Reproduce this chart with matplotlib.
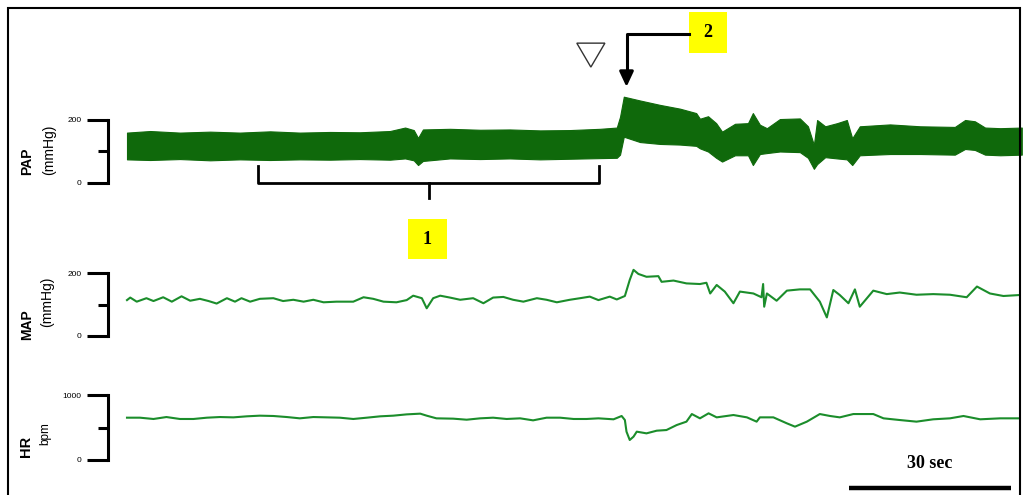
import numpy as np
import matplotlib
matplotlib.use("Agg")
import matplotlib.pyplot as plt
import matplotlib.transforms as mtransforms
from matplotlib.patches import Rectangle, Polygon

# ---- data (time in seconds) ----
pap_t = [0, 4.3, 9.8, 15.4, 20.9, 26.5, 32.0, 37.6, 43.1, 48.7, 51.5, 53.1, 53.9, 54.8,
         59.8, 65.4, 70.9, 76.5, 82.0, 87.6, 90.7, 91.3, 92.0, 95.0, 98.7, 102.4, 105.4,
         106.1, 107.6, 109.1, 110.2, 112.6, 115.0, 115.9, 117.2, 118.5, 120.9, 124.6,
         126.1, 127.2, 127.8, 129.3, 131.5, 133.3, 134.3, 135.7, 141.3, 146.9, 153.3,
         155.2, 157.0, 158.9, 161.7, 165.7]
pap_hi = [160, 165, 160, 163, 160, 164, 160, 162, 161, 165, 176, 168, 143, 170,
          172, 169, 170, 167, 168, 172, 176, 210, 274, 262, 248, 236, 222,
          204, 212, 190, 163, 188, 190, 222, 185, 174, 203, 205,
          180, 121, 200, 180, 190, 200, 142, 180, 186, 180, 178,
          200, 196, 176, 174, 176]
pap_lo = [75, 73, 76, 72, 75, 73, 75, 74, 76, 74, 78, 72, 57, 70,
          78, 76, 78, 75, 77, 79, 80, 90, 147, 130, 124, 122, 118,
          110, 100, 80, 68, 88, 88, 57, 92, 95, 100, 98,
          80, 45, 60, 82, 78, 75, 57, 88, 92, 92, 90,
          108, 105, 90, 88, 90]

map_t = [0, 0.6, 1.8, 3.6, 4.9, 6.7, 8.3, 10.1, 11.7, 13.5, 15.1, 16.6, 18.5, 20.0,
         21.2, 22.8, 24.6, 27.1, 28.9, 30.8, 32.7, 34.5, 36.4, 38.8, 41.9, 43.8, 45.6,
         47.5, 49.9, 51.8, 53.0, 54.6, 55.5, 56.7, 58.0, 59.8, 61.7, 64.1, 66.0, 67.8,
         69.7, 71.5, 73.4, 75.9, 77.7, 79.6, 82.0, 83.9, 85.7, 87.3,
         89.4, 90.7, 92.2, 93.1, 93.8, 94.7, 96.2, 98.4, 99.0, 101.2, 103.6, 106.1,
         107.3, 108.0, 109.2, 110.7, 112.3, 113.5, 116.0, 117.5, 117.8, 118.0, 118.5,
         120.3, 122.2, 124.6, 126.5, 128.3, 129.6, 130.8, 132.0, 133.6, 134.8, 135.7,
         138.2, 140.7, 143.1, 146.2, 149.3, 152.4, 155.5, 157.4, 159.8, 162.3, 165.2]
map_v = [114, 122, 109, 120, 111, 123, 109, 126, 112, 118, 111, 103, 120, 109,
         120, 109, 118, 120, 111, 115, 109, 115, 107, 109, 109, 123, 118,
         109, 107, 114, 128, 120, 88, 120, 128, 122, 115, 120, 104, 122,
         124, 115, 109, 120, 115, 107, 115, 120, 125, 114,
         125, 116, 127, 178, 210, 197, 188, 190, 172, 176, 167, 165,
         169, 135, 162, 141, 104, 141, 135, 123, 165, 93, 135,
         112, 144, 148, 148, 109, 59, 146, 130, 104, 148, 93,
         144, 133, 138, 131, 133, 131, 123, 157, 135, 127, 130]

hr_t = [0, 2.4, 4.9, 7.3, 9.8, 12.3, 14.8, 17.2, 19.7, 22.2, 24.6, 27.1, 29.6, 32.0,
        34.5, 37.0, 39.4, 41.9, 44.4, 46.9, 49.3, 51.8, 54.3, 55.5, 57.3, 60.4, 62.9,
        65.4, 67.8, 70.3, 72.8, 75.2, 77.7, 80.2, 82.7, 85.1, 87.3,
        90.1, 91.6, 92.2, 92.5, 93.1, 93.8, 94.4, 96.2, 98.1, 99.9, 101.8, 103.6, 104.6,
        106.1, 107.7, 109.2, 112.3, 114.8, 116.6, 117.2, 119.7, 122.2, 123.7, 125.9,
        128.3, 130.2, 132.0, 134.5, 138.2, 140.1, 143.1, 146.2, 149.3, 152.4, 154.9,
        158.0, 161.7, 165.1]
hr_v = [651, 651, 631, 661, 631, 631, 651, 661, 656, 672, 682, 677, 661, 641,
        661, 656, 651, 631, 651, 672, 682, 702, 713, 682, 641, 636, 620,
        641, 651, 631, 641, 610, 651, 651, 631, 631, 641,
        626, 677, 615, 436, 308, 359, 436, 410, 451, 461, 538, 590, 707,
        641, 718, 656, 692, 656, 590, 656, 656, 564, 513, 590,
        707, 677, 656, 707, 707, 641, 615, 590, 626, 641, 677,
        626, 641, 641]

# ---- layout (pixels of the 1023x495 canvas) ----
W, H = 1023, 495
T0_PX, PX_PER_S = 127, 5.4
SPINE_PX = 108
xlim = ((SPINE_PX - T0_PX) / PX_PER_S, (W - T0_PX) / PX_PER_S)

fig = plt.figure(figsize=(W / 100, H / 100), dpi=100)

pap_col = "#0f690b"
line_col = "#1b8d2b"


def make_panel(y_zero, y_top, top):
    ax = fig.add_axes([SPINE_PX / W, 1 - y_zero / H, (W - SPINE_PX) / W, (y_zero - y_top) / H])
    ax.set_xlim(*xlim)
    ax.set_ylim(0, top)
    for s in ["top", "right", "bottom"]:
        ax.spines[s].set_visible(False)
    ax.spines["left"].set_linewidth(2.2)
    ax.set_xticks([])
    ax.set_yticks([0, top])
    ax.set_yticks([top / 2], minor=True)
    ax.tick_params(axis="y", which="major", length=15, width=2.2, pad=4,
                   labelsize=6, labelfontfamily="Liberation Sans")
    ax.tick_params(axis="y", which="minor", length=7.5, width=2.2)
    ax.patch.set_alpha(0)
    return ax


ax_pap = make_panel(183, 120, 200)
ax_map = make_panel(336, 273, 200)
ax_hr = make_panel(460, 395, 1000)

ax_pap.fill_between(pap_t, pap_lo, pap_hi, color=pap_col, lw=0.8, clip_on=False)
ax_map.plot(map_t, map_v, color=line_col, lw=1.5, clip_on=False)
ax_hr.plot(hr_t, hr_v, color=line_col, lw=1.5, clip_on=False)

# ---- axis titles ----
def vlabel(x, y, s, size, weight="normal"):
    fig.text(x / W, 1 - y / H, s, rotation=90, ha="center", va="center",
             fontsize=size, fontweight=weight, family="Liberation Sans")

vlabel(27, 161, "PAP", 10, "bold")
vlabel(49, 150, "(mmHg)", 10)
vlabel(27, 325, "MAP", 10, "bold")
vlabel(47, 302, "(mmHg)", 10)
vlabel(26, 446, "HR", 10.5, "bold")
vlabel(45, 434, "bpm", 8.5)

# ---- annotations on the PAP panel ----
ax_pap.plot([24.3, 24.3, 87.4, 87.4], [54, 0, 0, 54], color="black", lw=2, clip_on=False)
ax_pap.plot([55.9, 55.9], [0, -48], color="black", lw=2, clip_on=False)
ax_pap.add_patch(Rectangle((52.0, -241), 7.3, 127, facecolor="#ffff00", edgecolor="none",
                           clip_on=False))
ax_pap.text(55.65, -178, "1", ha="center", va="center", fontsize=13, fontweight="bold",
            family="Liberation Serif")

ax_pap.add_patch(Polygon([(83.3, 444), (88.5, 444), (85.9, 368)], closed=True,
                         facecolor="white", edgecolor="#333333", lw=1, clip_on=False))

ax_pap.plot([104.1, 92.5, 92.5], [473, 473, 340], color="black", lw=2.2, clip_on=False)
ax_pap.annotate("", xy=(92.5, 305), xytext=(92.5, 345),
                arrowprops=dict(arrowstyle="-|>,head_length=0.9,head_width=0.42",
                                color="black", lw=2.2, shrinkA=0, shrinkB=0),
                annotation_clip=False)
ax_pap.add_patch(Rectangle((104.1, 413), 7.0, 130, facecolor="#ffff00", edgecolor="none",
                           clip_on=False))
ax_pap.text(107.6, 479, "2", ha="center", va="center", fontsize=13, fontweight="bold",
            family="Liberation Serif")

# ---- 30 s scale bar ----
tr = mtransforms.blended_transform_factory(ax_hr.transData, fig.transFigure)
ax_hr.plot([133.7, 163.7], [1 - 487.5 / H] * 2, color="black", lw=3.2, transform=tr,
           clip_on=False, solid_capstyle="butt")
ax_hr.text(148.7, 1 - 463 / H, "30 sec", transform=tr, ha="center", va="center",
           fontsize=13, fontweight="bold", family="Liberation Serif")

# ---- outer frame ----
fig.patches.append(Rectangle((8 / W, -0.1), (1020 - 8) / W, 1 - 8 / H + 0.1,
                             transform=fig.transFigure, fill=False, lw=1.5,
                             edgecolor="black"))

plt.savefig("out.png", dpi=100)
plt.close()
